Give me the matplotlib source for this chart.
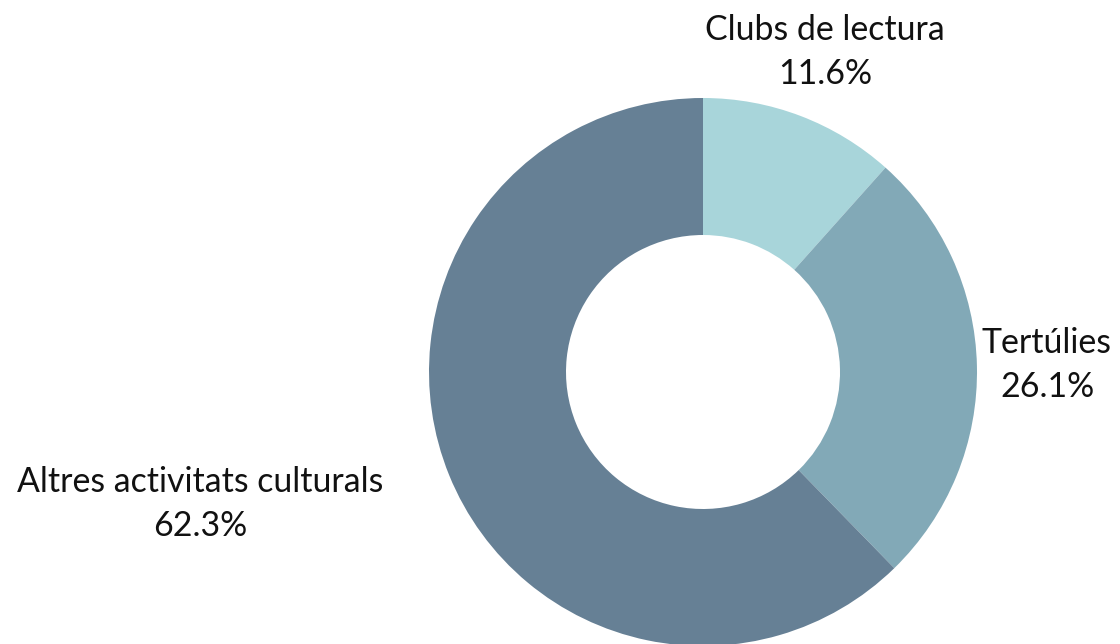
import matplotlib.pyplot as plt
import numpy as np

plt.rcParams['font.family'] = ['Lato', 'DejaVu Sans']

categories = ['Clubs de lectura', 'Tertúlies', 'Altres activitats culturals']
shares = [11.6, 26.1, 62.3]
colors = ['#a8d5da', '#82a9b7', '#668095']

# label anchors (pixel space, y measured from top)
label_pos = [(825, 52), (1047, 365), (200, 504)]

fig = plt.figure(figsize=(11.2, 6.44), dpi=100)
ax = fig.add_axes([0, 0, 1, 1])

cx, cy, r = 703, 644 - 372, 274
ax.pie(shares, colors=colors, startangle=90, counterclock=False,
       center=(cx, cy), radius=r, frame=True,
       wedgeprops=dict(width=r * 0.5, linewidth=0))
ax.set_xlim(0, 1120)
ax.set_ylim(0, 644)
ax.set_aspect('equal')
ax.axis('off')

for name, val, (x, y) in zip(categories, shares, label_pos):
    ax.text(x, 644 - y, f'{name}\n{val:.1f}%', ha='center', va='center',
            fontsize=24.4, color='#111111', linespacing=1.47)

fig.savefig('out.png', dpi=100)
